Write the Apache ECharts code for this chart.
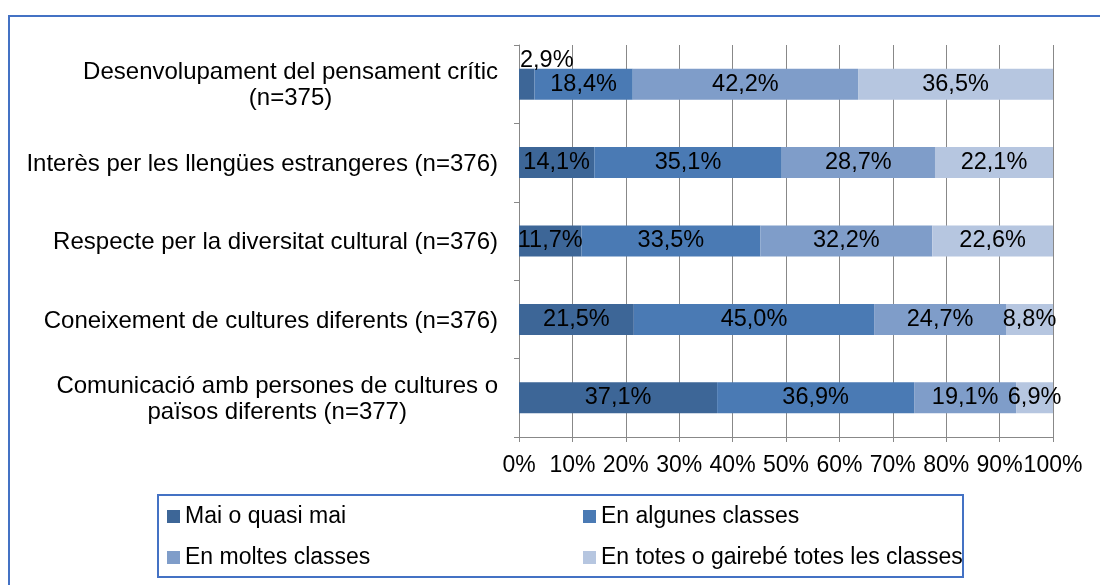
<!DOCTYPE html>
<html>
<head>
<meta charset="utf-8">
<script src="https://cdn.jsdelivr.net/npm/echarts@6/dist/echarts.min.js"></script>
<style>
  html, body { margin: 0; padding: 0; background: #ffffff; }
  #chart { width: 1100px; height: 585px; }
</style>
</head>
<body>
<div id="chart"></div>
<script>
// Categories (top to bottom)
const categories = [
  'Desenvolupament del pensament crític\n(n=375)',
  'Interès per les llengües estrangeres (n=376)',
  'Respecte per la diversitat cultural (n=376)',
  'Coneixement de cultures diferents (n=376)',
  'Comunicació amb persones de cultures o\npaïsos diferents (n=377)'
];

// Response levels
const seriesNames = [
  'Mai o quasi mai',
  'En algunes classes',
  'En moltes classes',
  'En totes o gairebé totes les classes'
];

// Percentages per category
const maiOQuasiMai     = [2.9, 14.1, 11.7, 21.5, 37.1];
const enAlgunesClasses = [18.4, 35.1, 33.5, 45.0, 36.9];
const enMoltesClasses  = [42.2, 28.7, 32.2, 24.7, 19.1];
const enTotesClasses   = [36.5, 22.1, 22.6, 8.8, 6.9];

// Value axis range
const axisMin = 0;
const axisMax = 100;
const axisStep = 10;

const FONT = '"Liberation Sans", Arial, sans-serif';
const FS = 24;
const colors = ['#3d6697', '#4a7ab4', '#7f9dc9', '#b6c6e0'];
const gridGrey = '#888888';
const frameBlue = '#4472c4';

const fmt = v => v.toFixed(1).replace('.', ',') + '%';

function makeSeries(name, values, color, liftSmall) {
  return {
    name: name,
    type: 'bar',
    stack: 'total',
    barWidth: 31,
    itemStyle: { color: color },
    label: {
      show: true,
      position: 'inside',
      color: '#000000',
      fontFamily: FONT,
      fontSize: 23.5,
      formatter: p => fmt(p.value)
    },
    // very thin segments carry their label above the bar
    data: values.map(v => liftSmall && v < 5
      ? { value: v, label: { position: [1, -20] } }
      : v)
  };
}

const chart = echarts.init(document.getElementById('chart'), null, { renderer: 'canvas' });

chart.setOption({
  backgroundColor: '#ffffff',
  animation: false,
  color: colors,
  textStyle: { fontFamily: FONT },
  graphic: [
    {
      // outer chart frame
      type: 'rect',
      silent: true,
      shape: { x: 9, y: 16, width: 1200, height: 700 },
      style: { fill: 'none', stroke: frameBlue, lineWidth: 2 }
    },
    {
      // legend frame
      type: 'rect',
      silent: true,
      shape: { x: 158, y: 495, width: 805, height: 82 },
      style: { fill: 'none', stroke: frameBlue, lineWidth: 2 }
    }
  ],
  grid: {
    left: 519,
    right: 47,
    top: 45,
    bottom: 148,
    containLabel: false
  },
  legend: {
    left: 167,
    top: 501,
    width: 830,
    orient: 'horizontal',
    padding: 0,
    itemGap: 10,
    itemWidth: 13,
    itemHeight: 13,
    icon: 'rect',
    data: seriesNames,
    textStyle: {
      fontFamily: FONT,
      fontSize: 23,
      color: '#000000',
      width: 388,
      lineHeight: 31
    }
  },
  xAxis: {
    type: 'value',
    min: axisMin,
    max: axisMax,
    interval: axisStep,
    axisLine: { show: true, lineStyle: { color: gridGrey, width: 1 } },
    axisTick: { show: true, length: 5, lineStyle: { color: gridGrey } },
    splitLine: { show: true, lineStyle: { color: gridGrey, width: 1 } },
    axisLabel: {
      formatter: '{value}%',
      color: '#000000',
      fontFamily: FONT,
      fontSize: 23,
      margin: 17,
      showMinLabel: true,
      showMaxLabel: true,
      hideOverlap: false
    }
  },
  yAxis: {
    type: 'category',
    inverse: true,
    data: categories,
    axisLine: { show: true, lineStyle: { color: gridGrey, width: 1 } },
    axisTick: { show: true, length: 5, lineStyle: { color: gridGrey } },
    splitLine: { show: false },
    axisLabel: {
      color: '#000000',
      fontFamily: FONT,
      fontSize: FS,
      margin: 21,
      align: 'right',
      padding: [3, 0, 0, 0],
      formatter: v => v.split('\n').map(s => '{c|' + s + '}').join('\n'),
      rich: {
        c: {
          align: 'center',
          fontFamily: FONT,
          fontSize: FS,
          lineHeight: 26,
          color: '#000000'
        }
      }
    }
  },
  series: [
    makeSeries(seriesNames[0], maiOQuasiMai, colors[0], true),
    makeSeries(seriesNames[1], enAlgunesClasses, colors[1], false),
    makeSeries(seriesNames[2], enMoltesClasses, colors[2], false),
    makeSeries(seriesNames[3], enTotesClasses, colors[3], false)
  ]
});
</script>
</body>
</html>
